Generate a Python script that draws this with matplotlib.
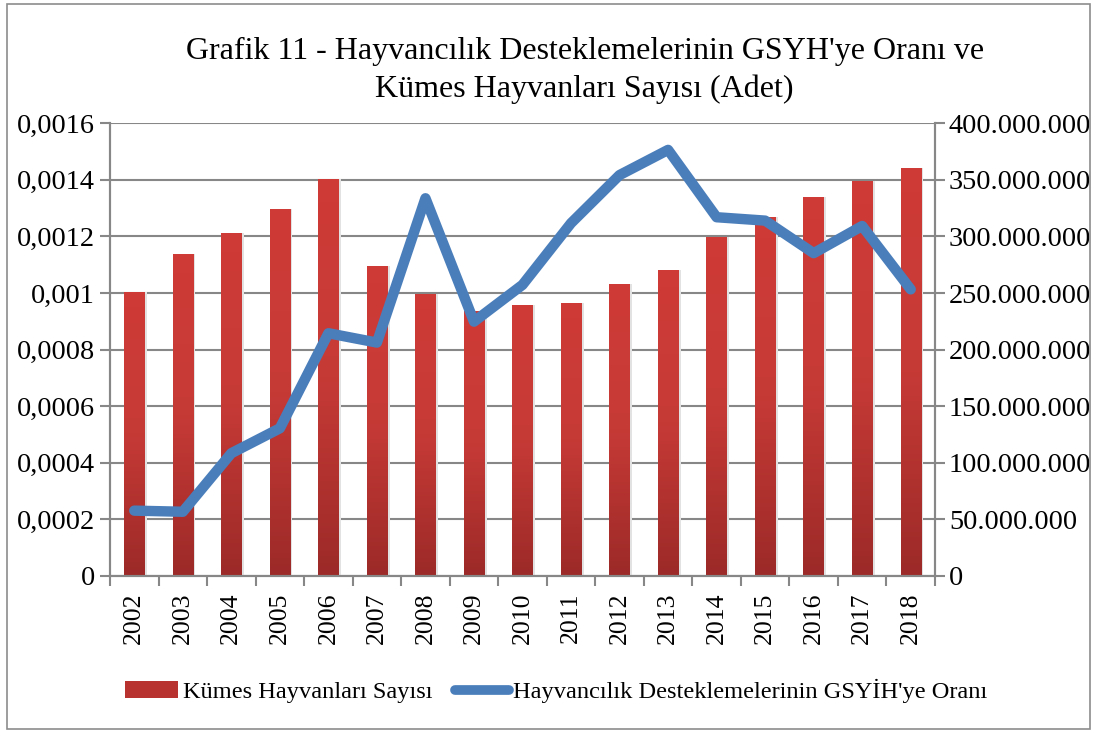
import numpy as np
import matplotlib
matplotlib.use("Agg")
import matplotlib.pyplot as plt
from matplotlib.colors import LinearSegmentedColormap
from matplotlib.patches import Patch, Rectangle
from matplotlib.lines import Line2D
from matplotlib.ticker import FuncFormatter, MultipleLocator

years = [str(y) for y in range(2002, 2019)]
# Kümes hayvanları sayısı (adet) - sağ eksen
poultry = [251.1e6, 284.1e6, 303.3e6, 323.9e6, 350.4e6, 274.3e6, 249.6e6, 233.9e6,
           239.8e6, 241.6e6, 258.4e6, 270.8e6, 299.1e6, 316.8e6, 334.5e6, 348.7e6, 360.2e6]
# Hayvancılık desteklemelerinin GSYİH'ye oranı - sol eksen
ratio = [0.000231, 0.000227, 0.000434, 0.000522, 0.000858, 0.000825, 0.001335, 0.000899,
         0.001029, 0.001247, 0.001417, 0.001506, 0.001268, 0.001256, 0.001141, 0.001237, 0.001013]

title = "Grafik 11 - Hayvancılık Desteklemelerinin GSYH'ye Oranı ve\nKümes Hayvanları Sayısı (Adet)"
bar_label = "Kümes Hayvanları Sayısı"
line_label = "Hayvancılık Desteklemelerinin GSYİH'ye Oranı"

plt.rcParams["font.family"] = ["Liberation Serif", "DejaVu Serif"]
grid_col = "#878787"
line_col = "#4A7EBB"

fig = plt.figure(figsize=(10.97, 7.33), dpi=100)
fig.patches.append(Rectangle((0.006, 0.005), 0.988, 0.99, transform=fig.transFigure,
                             fill=False, edgecolor="#8c8c8c", lw=1.2))

ax = fig.add_axes([0.1003, 0.2142, 0.752, 0.6176])
ax2 = ax.twinx()

x = np.arange(len(years))

# bars on right axis, behind the line
bars = ax2.bar(x, poultry, width=0.42, color="#C0392F", zorder=2)
cmap = LinearSegmentedColormap.from_list("redgrad", ["#CF3B37", "#C63A36", "#9C2A28"])
grad = np.linspace(0, 1, 256).reshape(-1, 1)
for b in bars:
    x0, w, h = b.get_x(), b.get_width(), b.get_height()
    # faint shadow
    ax2.add_patch(Rectangle((x0 + w, 0), 0.05, h, color="#e2e2e2", zorder=1.5, lw=0))
    im = ax2.imshow(grad, cmap=cmap, aspect="auto", extent=(x0, x0 + w, 0, h),
                    origin="upper", zorder=2.1)
    im.set_clip_path(b)

ax2.set_ylim(0, 400e6)
ax2.yaxis.set_major_locator(MultipleLocator(50e6))
ax2.yaxis.set_major_formatter(FuncFormatter(lambda v, p: f"{int(round(v)):,}".replace(",", ".")))
ax2.grid(axis="y", color=grid_col, lw=1.5, zorder=0)
ax2.set_axisbelow(True)

# line on left axis
ax.plot(x, ratio, color=line_col, lw=7.5, solid_joinstyle="round",
        solid_capstyle="round", zorder=5)
ax.set_ylim(0, 0.0016)
ax.yaxis.set_major_locator(MultipleLocator(0.0002))


def left_fmt(v, p):
    if abs(v) < 1e-12:
        return "0"
    s = f"{v:.4f}".rstrip("0")
    return s.replace(".", ",")


ax.yaxis.set_major_formatter(FuncFormatter(left_fmt))
ax.set_zorder(ax2.get_zorder() + 1)
ax.patch.set_visible(False)

ax.set_xlim(-0.5, len(years) - 0.5)
ax.set_xticks(x)
ax.set_xticklabels(years, rotation=90, fontsize=18.5)
ax.set_xticks(np.arange(-0.5, len(years)), minor=True)
ax.tick_params(axis="x", which="major", length=0, pad=12)
ax.tick_params(axis="x", which="minor", length=7, color=grid_col, width=1.5)
ax.tick_params(axis="y", length=7, color=grid_col, width=1.5, labelsize=20.3, pad=4)
ax2.tick_params(axis="y", length=7, color=grid_col, width=1.5, labelsize=20.3, pad=3)

for a in (ax, ax2):
    a.spines["top"].set_visible(False)
    for s in ("left", "right", "bottom"):
        a.spines[s].set_color(grid_col)
        a.spines[s].set_linewidth(1.5)

fig.text(0.533, 0.904, title, ha="center", va="center", fontsize=23, linespacing=1.35)

handles = [Patch(facecolor="#B8332F", edgecolor="none"),
           Line2D([0], [0], color=line_col, lw=7, solid_capstyle="round")]
fig.legend(handles, [bar_label, line_label], loc="center", bbox_to_anchor=(0.507, 0.057),
           ncol=2, frameon=False, fontsize=17.6, handlelength=2.2, handletextpad=0.2,
           columnspacing=0.9)

fig.savefig("out.png", dpi=100)
